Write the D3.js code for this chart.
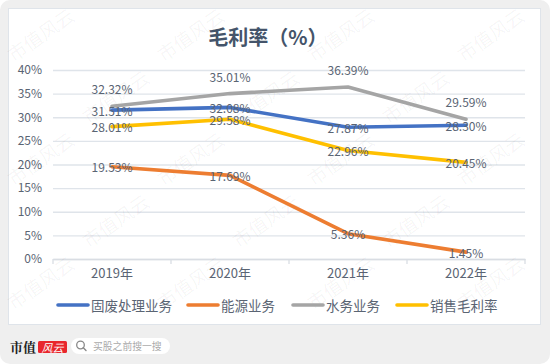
<!DOCTYPE html>
<html>
<head>
<meta charset="utf-8">
<script src="https://cdn.jsdelivr.net/npm/d3@7"></script>
<style>
  html, body { margin: 0; padding: 0; background: #fff; }
  svg { display: block; font-family: "Noto Sans CJK SC", "Noto Sans", sans-serif; }
</style>
</head>
<body>
<div id="chart"></div>
<script>
// data
const years = ["2019年", "2020年", "2021年", "2022年"];
const seriesNames = ["固废处理业务", "能源业务", "水务业务", "销售毛利率"];
const guFei = [31.51, 32.08, 27.87, 28.30];
const nengYuan = [19.53, 17.69, 5.36, 1.45];
const shuiWu = [32.32, 35.01, 36.39, 29.59];
const xiaoShou = [28.01, 29.58, 22.96, 20.45];
const yTicks = [0, 5, 10, 15, 20, 25, 30, 35, 40];

const colors = ["#4472c4", "#ed7d31", "#a5a5a5", "#ffc000"];
const seriesVals = [guFei, nengYuan, shuiWu, xiaoShou];
// gray labels sit above the point, the others on it
const labelAbove = [false, false, true, false];

const W = 550, H = 364;
const plotL = 53, plotR = 525, plotT = 70, plotB = 259;

const svg = d3.select("#chart").append("svg")
    .attr("width", W)
    .attr("height", H);

// background + panel
svg.append("rect").attr("width", W).attr("height", H).attr("rx", 10).attr("fill", "#efefef");
svg.append("rect")
    .attr("x", 8.5).attr("y", 8.5).attr("width", 532).attr("height", 316)
    .attr("fill", "#fff").attr("stroke", "#dfe4ea");

let x = d3.scaleBand().domain(years).range([plotL, plotR]);
let y = d3.scaleLinear().domain([0, 40]).range([plotB, plotT]);
const cx = d => x(d) + x.bandwidth() / 2;

// title
svg.append("text")
    .attr("x", 268).attr("y", 36)
    .attr("text-anchor", "middle")
    .attr("dominant-baseline", "central")
    .attr("font-size", 20).attr("font-weight", "bold")
    .attr("fill", "#44546a")
    .text("毛利率（%）");

// y axis + gridlines
let yAxis = d3.axisLeft(y)
    .tickValues(yTicks)
    .tickFormat(d => d + "%")
    .tickSize(-(plotR - plotL))
    .tickPadding(11);

let yg = svg.append("g")
    .attr("transform", "translate(" + plotL + ",0)")
    .call(yAxis);
yg.select(".domain").remove();
yg.selectAll(".tick line").attr("stroke", "#dfe4ea").attr("stroke-width", 1.3);
yg.selectAll(".tick text")
    .attr("font-size", 12).attr("fill", "#5a6473")
    .attr("font-family", "\"Noto Sans CJK SC\", sans-serif");

// x axis
let xAxis = d3.axisBottom(x).tickSize(0).tickPadding(10);
let xg = svg.append("g")
    .attr("transform", "translate(0," + plotB + ")")
    .call(xAxis);
xg.select(".domain").attr("stroke", "#d9dde3").attr("stroke-width", 1.3);
xg.selectAll(".tick text")
    .attr("font-size", 13).attr("fill", "#5a6473")
    .attr("font-family", "\"Noto Sans CJK SC\", sans-serif");
xg.selectAll(".bound")
    .data(years.map(d => x(d)).concat([plotR]))
    .enter()
    .append("line")
    .attr("class", "bound")
    .attr("x1", d => d).attr("x2", d => d)
    .attr("y1", 0).attr("y2", 5)
    .attr("stroke", "#d9dde3").attr("stroke-width", 1.3);

// watermark, kept inside the picture
let wm = svg.append("g").attr("fill", "#000").attr("fill-opacity", 0.045)
    .attr("font-size", 19);
for (let r = 0; r < 6; r++) {
    for (let c = 0; c < 6; c++) {
        let wx = 40 + c * 150 - (r % 2) * 75;
        let wy = 34 + r * 62;
        if (wx < 40 || wx > 510 || wy < 32 || wy > 330) continue;
        wm.append("text")
            .attr("transform", "translate(" + wx + "," + wy + ") rotate(-35)")
            .attr("text-anchor", "middle")
            .attr("dominant-baseline", "central")
            .text("市值风云");
    }
}

// lines
let line = d3.line()
    .x((d, i) => cx(years[i]))
    .y(d => y(d));

svg.selectAll(".series")
    .data(seriesVals)
    .enter()
    .append("path")
    .attr("class", "series")
    .attr("d", d => line(d))
    .attr("fill", "none")
    .attr("stroke", (d, i) => colors[i])
    .attr("stroke-width", 3.6)
    .attr("stroke-linejoin", "round")
    .attr("stroke-linecap", "round");

// data labels
seriesVals.forEach((vals, s) => {
    svg.append("g").selectAll("text")
        .data(vals)
        .enter()
        .append("text")
        .attr("x", (d, i) => cx(years[i]))
        .attr("y", d => y(d) - (labelAbove[s] ? 17.5 : 0))
        .attr("text-anchor", "middle")
        .attr("dominant-baseline", "central")
        .attr("font-size", 12)
        .attr("fill", "#5a6473")
        .text(d => d.toFixed(2) + "%");
});

// legend
const legX = [58, 188, 293, 397];
let leg = svg.selectAll(".leg")
    .data(seriesNames)
    .enter()
    .append("g")
    .attr("class", "leg")
    .attr("transform", (d, i) => "translate(" + legX[i] + ",305)");
leg.append("line")
    .attr("x1", 0).attr("x2", 30)
    .attr("stroke", (d, i) => colors[i])
    .attr("stroke-width", 3.6)
    .attr("stroke-linecap", "round");
leg.append("text")
    .attr("x", 33)
    .attr("dominant-baseline", "central")
    .attr("font-size", 13.5)
    .attr("fill", "#5a6473")
    .text(d => d);

// footer
svg.append("text")
    .attr("x", 10).attr("y", 346)
    .attr("dominant-baseline", "central")
    .attr("font-size", 13).attr("font-weight", "bold")
    .attr("fill", "#222")
    .attr("font-family", "\"Noto Serif CJK SC\", \"Noto Sans CJK SC\", serif")
    .text("市值");
svg.append("rect")
    .attr("x", 38).attr("y", 341).attr("width", 29).attr("height", 12)
    .attr("rx", 1.5).attr("fill", "#e8262d");
svg.append("text")
    .attr("x", 52.5).attr("y", 347)
    .attr("text-anchor", "middle")
    .attr("dominant-baseline", "central")
    .attr("font-size", 11).attr("font-style", "italic")
    .attr("fill", "#fff")
    .text("风云");
svg.append("rect")
    .attr("x", 71).attr("y", 338).attr("width", 99).attr("height", 16)
    .attr("rx", 8).attr("fill", "#fff");
svg.append("circle")
    .attr("cx", 80.5).attr("cy", 345).attr("r", 3.8)
    .attr("fill", "none").attr("stroke", "#888").attr("stroke-width", 1.3);
svg.append("line")
    .attr("x1", 83.3).attr("y1", 347.8).attr("x2", 86).attr("y2", 350.5)
    .attr("stroke", "#888").attr("stroke-width", 1.4).attr("stroke-linecap", "round");
svg.append("text")
    .attr("x", 93).attr("y", 346)
    .attr("dominant-baseline", "central")
    .attr("font-size", 9.8)
    .attr("fill", "#aaa")
    .text("买股之前搜一搜");
</script>
</body>
</html>
